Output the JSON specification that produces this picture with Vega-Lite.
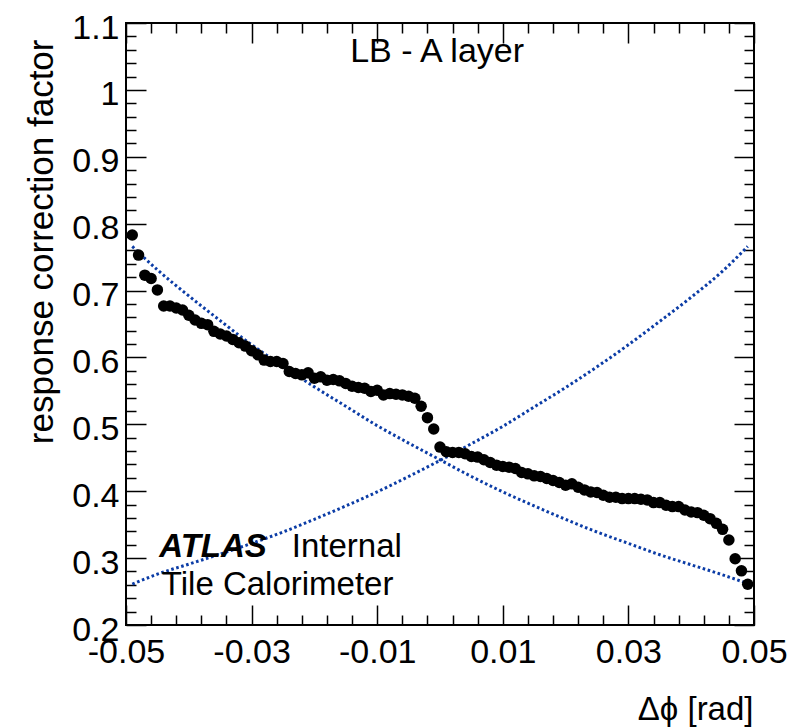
{
  "$schema": "https://vega.github.io/schema/vega-lite/v6.json",
  "width": 628,
  "height": 602,
  "autosize": {"type": "none"},
  "padding": {"left": 126, "top": 23, "right": 37, "bottom": 103},
  "background": "#ffffff",
  "config": {
    "font": "Liberation Sans",
    "view": {"stroke": "#000000", "strokeWidth": 2},
    "axis": {
      "grid": false,
      "domain": false,
      "tickColor": "#000000",
      "tickWidth": 1.5,
      "labelColor": "#000000",
      "labelFont": "Liberation Sans",
      "labelFontSize": 34,
      "labelOverlap": false,
      "labelFlush": false,
      "labelBound": false,
      "titleFont": "Liberation Sans",
      "titleFontWeight": "normal",
      "titleColor": "#000000",
      "titleFontSize": 34
    }
  },
  "datasets": {
    "points": [
      {"dphi": -0.049, "corr": 0.783}, {"dphi": -0.048, "corr": 0.753}, {"dphi": -0.047, "corr": 0.723}, {"dphi": -0.046, "corr": 0.718}, {"dphi": -0.045, "corr": 0.701},
      {"dphi": -0.044, "corr": 0.677}, {"dphi": -0.043, "corr": 0.677}, {"dphi": -0.042, "corr": 0.674}, {"dphi": -0.041, "corr": 0.671}, {"dphi": -0.040, "corr": 0.663},
      {"dphi": -0.039, "corr": 0.656}, {"dphi": -0.038, "corr": 0.651}, {"dphi": -0.037, "corr": 0.649}, {"dphi": -0.036, "corr": 0.639}, {"dphi": -0.035, "corr": 0.635},
      {"dphi": -0.034, "corr": 0.632}, {"dphi": -0.033, "corr": 0.627}, {"dphi": -0.032, "corr": 0.622}, {"dphi": -0.031, "corr": 0.617}, {"dphi": -0.030, "corr": 0.610},
      {"dphi": -0.029, "corr": 0.604}, {"dphi": -0.028, "corr": 0.596}, {"dphi": -0.027, "corr": 0.594}, {"dphi": -0.026, "corr": 0.594}, {"dphi": -0.025, "corr": 0.591},
      {"dphi": -0.024, "corr": 0.579}, {"dphi": -0.023, "corr": 0.576}, {"dphi": -0.022, "corr": 0.574}, {"dphi": -0.021, "corr": 0.577}, {"dphi": -0.020, "corr": 0.569},
      {"dphi": -0.019, "corr": 0.571}, {"dphi": -0.018, "corr": 0.566}, {"dphi": -0.017, "corr": 0.567}, {"dphi": -0.016, "corr": 0.565}, {"dphi": -0.015, "corr": 0.561},
      {"dphi": -0.014, "corr": 0.557}, {"dphi": -0.013, "corr": 0.555}, {"dphi": -0.012, "corr": 0.554}, {"dphi": -0.011, "corr": 0.549}, {"dphi": -0.010, "corr": 0.551},
      {"dphi": -0.009, "corr": 0.544}, {"dphi": -0.008, "corr": 0.546}, {"dphi": -0.007, "corr": 0.545}, {"dphi": -0.006, "corr": 0.544}, {"dphi": -0.005, "corr": 0.542},
      {"dphi": -0.004, "corr": 0.539}, {"dphi": -0.003, "corr": 0.527}, {"dphi": -0.002, "corr": 0.510}, {"dphi": -0.001, "corr": 0.493}, {"dphi": 0.000, "corr": 0.466},
      {"dphi": 0.001, "corr": 0.459}, {"dphi": 0.002, "corr": 0.458}, {"dphi": 0.003, "corr": 0.458}, {"dphi": 0.004, "corr": 0.456}, {"dphi": 0.005, "corr": 0.452},
      {"dphi": 0.006, "corr": 0.451}, {"dphi": 0.007, "corr": 0.447}, {"dphi": 0.008, "corr": 0.443}, {"dphi": 0.009, "corr": 0.439}, {"dphi": 0.010, "corr": 0.437},
      {"dphi": 0.011, "corr": 0.436}, {"dphi": 0.012, "corr": 0.434}, {"dphi": 0.013, "corr": 0.428}, {"dphi": 0.014, "corr": 0.426}, {"dphi": 0.015, "corr": 0.423},
      {"dphi": 0.016, "corr": 0.422}, {"dphi": 0.017, "corr": 0.419}, {"dphi": 0.018, "corr": 0.416}, {"dphi": 0.019, "corr": 0.413}, {"dphi": 0.020, "corr": 0.409},
      {"dphi": 0.021, "corr": 0.411}, {"dphi": 0.022, "corr": 0.406}, {"dphi": 0.023, "corr": 0.402}, {"dphi": 0.024, "corr": 0.399}, {"dphi": 0.025, "corr": 0.398},
      {"dphi": 0.026, "corr": 0.394}, {"dphi": 0.027, "corr": 0.391}, {"dphi": 0.028, "corr": 0.391}, {"dphi": 0.029, "corr": 0.389}, {"dphi": 0.030, "corr": 0.389},
      {"dphi": 0.031, "corr": 0.389}, {"dphi": 0.032, "corr": 0.388}, {"dphi": 0.033, "corr": 0.387}, {"dphi": 0.034, "corr": 0.383}, {"dphi": 0.035, "corr": 0.383},
      {"dphi": 0.036, "corr": 0.379}, {"dphi": 0.037, "corr": 0.377}, {"dphi": 0.038, "corr": 0.377}, {"dphi": 0.039, "corr": 0.372}, {"dphi": 0.040, "corr": 0.369},
      {"dphi": 0.041, "corr": 0.368}, {"dphi": 0.042, "corr": 0.364}, {"dphi": 0.043, "corr": 0.359}, {"dphi": 0.044, "corr": 0.352}, {"dphi": 0.045, "corr": 0.343},
      {"dphi": 0.046, "corr": 0.327}, {"dphi": 0.047, "corr": 0.299}, {"dphi": 0.048, "corr": 0.281}, {"dphi": 0.049, "corr": 0.261}
    ],
    "fit1": [
      {"dphi": -0.049, "fit": 0.766}, {"dphi": -0.045, "fit": 0.731}, {"dphi": -0.040, "fit": 0.692}, {"dphi": -0.035, "fit": 0.655},
      {"dphi": -0.030, "fit": 0.619}, {"dphi": -0.025, "fit": 0.587}, {"dphi": -0.020, "fit": 0.556}, {"dphi": -0.015, "fit": 0.527},
      {"dphi": -0.010, "fit": 0.498}, {"dphi": -0.005, "fit": 0.472}, {"dphi": 0.000, "fit": 0.447}, {"dphi": 0.005, "fit": 0.422},
      {"dphi": 0.010, "fit": 0.399}, {"dphi": 0.015, "fit": 0.378}, {"dphi": 0.020, "fit": 0.358}, {"dphi": 0.025, "fit": 0.339},
      {"dphi": 0.030, "fit": 0.322}, {"dphi": 0.035, "fit": 0.305}, {"dphi": 0.040, "fit": 0.290}, {"dphi": 0.045, "fit": 0.275},
      {"dphi": 0.049, "fit": 0.262}
    ],
    "fit2": [
      {"dphi": -0.049, "fit": 0.261}, {"dphi": -0.045, "fit": 0.276}, {"dphi": -0.040, "fit": 0.291}, {"dphi": -0.035, "fit": 0.306},
      {"dphi": -0.030, "fit": 0.322}, {"dphi": -0.025, "fit": 0.339}, {"dphi": -0.020, "fit": 0.358}, {"dphi": -0.015, "fit": 0.378},
      {"dphi": -0.010, "fit": 0.399}, {"dphi": -0.005, "fit": 0.422}, {"dphi": 0.000, "fit": 0.446}, {"dphi": 0.005, "fit": 0.471},
      {"dphi": 0.010, "fit": 0.497}, {"dphi": 0.015, "fit": 0.526}, {"dphi": 0.020, "fit": 0.555}, {"dphi": 0.025, "fit": 0.586},
      {"dphi": 0.030, "fit": 0.619}, {"dphi": 0.035, "fit": 0.654}, {"dphi": 0.040, "fit": 0.690}, {"dphi": 0.045, "fit": 0.729},
      {"dphi": 0.049, "fit": 0.766}
    ]
  },
  "layer": [
    {
      "data": {"name": "fit1"},
      "mark": {"type": "line", "color": "#0b3ca6", "strokeWidth": 3, "strokeDash": [2.6, 2.6], "interpolate": "monotone"},
      "encoding": {
        "x": {"field": "dphi", "type": "quantitative", "scale": {"domain": [-0.05, 0.05], "nice": false, "zero": false},
          "axis": {"orient": "bottom", "values": [-0.046, -0.042, -0.038, -0.034, -0.026, -0.022, -0.018, -0.014, -0.006, -0.002, 0.002, 0.006, 0.014, 0.018, 0.022, 0.026, 0.034, 0.038, 0.042, 0.046], "labels": false, "tickSize": -10, "title": null}},
        "y": {"field": "fit", "type": "quantitative", "scale": {"domain": [0.2, 1.1], "nice": false, "zero": false},
          "axis": {"orient": "left", "values": [0.22, 0.24, 0.26, 0.28, 0.32, 0.34, 0.36, 0.38, 0.42, 0.44, 0.46, 0.48, 0.52, 0.54, 0.56, 0.58, 0.62, 0.64, 0.66, 0.68, 0.72, 0.74, 0.76, 0.78, 0.82, 0.84, 0.86, 0.88, 0.92, 0.94, 0.96, 0.98, 1.02, 1.04, 1.06, 1.08], "labels": false, "tickSize": -10, "title": null}}
      }
    },
    {
      "data": {"name": "fit2"},
      "mark": {"type": "line", "color": "#0b3ca6", "strokeWidth": 3, "strokeDash": [2.6, 2.6], "interpolate": "monotone"},
      "encoding": {
        "x": {"field": "dphi", "type": "quantitative", "scale": {"domain": [-0.05, 0.05], "nice": false, "zero": false},
          "axis": {"orient": "top", "values": [-0.05, -0.03, -0.01, 0.01, 0.03, 0.05], "labels": false, "tickSize": -20, "title": null}},
        "y": {"field": "fit", "type": "quantitative", "scale": {"domain": [0.2, 1.1], "nice": false, "zero": false},
          "axis": {"orient": "right", "values": [0.2, 0.3, 0.4, 0.5, 0.6, 0.7, 0.8, 0.9, 1.0, 1.1], "labels": false, "tickSize": -20, "title": null}}
      }
    },
    {
      "data": {"name": "points"},
      "mark": {"type": "circle", "size": 132, "color": "#000000", "opacity": 1},
      "encoding": {
        "x": {"field": "dphi", "type": "quantitative", "scale": {"domain": [-0.05, 0.05], "nice": false, "zero": false},
          "axis": {"orient": "bottom", "values": [-0.05, -0.03, -0.01, 0.01, 0.03, 0.05], "tickSize": -20, "labelPadding": 30,
            "labelExpr": "datum.value < 0 ? '-' + format(-datum.value, '.2f') : format(datum.value, '.2f')",
            "title": "Δϕ [rad]", "titleFontSize": 33, "titleX": 627, "titleY": 94, "titleAlign": "right", "titleBaseline": "alphabetic", "titleAngle": 0}},
        "y": {"field": "corr", "type": "quantitative", "scale": {"domain": [0.2, 1.1], "nice": false, "zero": false},
          "axis": {"orient": "left", "values": [0.2, 0.3, 0.4, 0.5, 0.6, 0.7, 0.8, 0.9, 1.0, 1.1], "tickSize": -20, "labelPadding": 27, "labelOffset": 5,
            "labelExpr": "'' + datum.value",
            "title": "response correction factor", "titleFontSize": 35, "titleX": -74, "titleY": 16, "titleAngle": -90, "titleAlign": "right", "titleBaseline": "alphabetic"}}
      }
    },
    {
      "data": {"values": [{"label": "LB - A layer"}]},
      "mark": {"type": "text", "fontSize": 34, "align": "left", "baseline": "alphabetic", "color": "#000000"},
      "encoding": {
        "text": {"field": "label"},
        "x": {"datum": -0.0143, "type": "quantitative",
          "axis": {"orient": "top", "values": [-0.046, -0.042, -0.038, -0.034, -0.026, -0.022, -0.018, -0.014, -0.006, -0.002, 0.002, 0.006, 0.014, 0.018, 0.022, 0.026, 0.034, 0.038, 0.042, 0.046], "labels": false, "tickSize": -10, "title": null}},
        "y": {"datum": 1.0417, "type": "quantitative",
          "axis": {"orient": "right", "values": [0.22, 0.24, 0.26, 0.28, 0.32, 0.34, 0.36, 0.38, 0.42, 0.44, 0.46, 0.48, 0.52, 0.54, 0.56, 0.58, 0.62, 0.64, 0.66, 0.68, 0.72, 0.74, 0.76, 0.78, 0.82, 0.84, 0.86, 0.88, 0.92, 0.94, 0.96, 0.98, 1.02, 1.04, 1.06, 1.08], "labels": false, "tickSize": -10, "title": null}}
      }
    },
    {
      "data": {"values": [{"label": "ATLAS"}]},
      "mark": {"type": "text", "fontSize": 33, "fontWeight": "bold", "fontStyle": "italic", "align": "left", "baseline": "alphabetic", "color": "#000000"},
      "encoding": {
        "text": {"field": "label"},
        "x": {"datum": -0.0447, "type": "quantitative", "axis": null},
        "y": {"datum": 0.3021, "type": "quantitative", "axis": null}
      }
    },
    {
      "data": {"values": [{"label": "Internal"}]},
      "mark": {"type": "text", "fontSize": 33, "align": "left", "baseline": "alphabetic", "color": "#000000"},
      "encoding": {
        "text": {"field": "label"},
        "x": {"datum": -0.0236, "type": "quantitative", "axis": null},
        "y": {"datum": 0.3021, "type": "quantitative", "axis": null}
      }
    },
    {
      "data": {"values": [{"label": "Tile Calorimeter"}]},
      "mark": {"type": "text", "fontSize": 33, "align": "left", "baseline": "alphabetic", "color": "#000000"},
      "encoding": {
        "text": {"field": "label"},
        "x": {"datum": -0.0443, "type": "quantitative", "axis": null},
        "y": {"datum": 0.2449, "type": "quantitative", "axis": null}
      }
    }
  ],
  "resolve": {"axis": {"x": "independent", "y": "independent"}}
}
